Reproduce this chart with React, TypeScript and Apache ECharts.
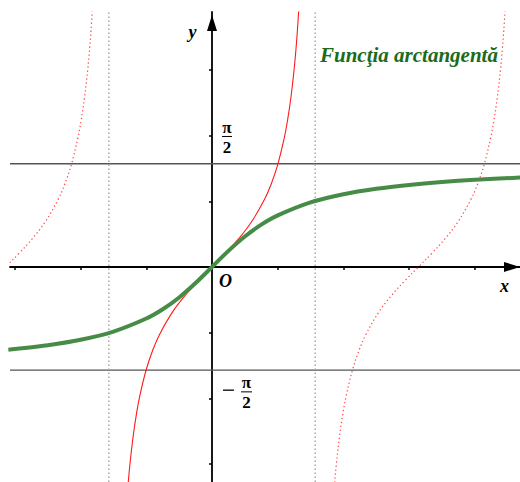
import React, { useEffect, useRef } from "react";
import * as echarts from "echarts";

// Visible window
const X_MIN = -3.075;
const X_MAX = 4.688;
const Y_MIN = -3.273;
const Y_MAX = 3.881;
const HALF_PI = Math.PI / 2;
const PERIOD = Math.PI;

const X_TICKS = [-3, -2, -1, 1, 2, 3, 4];
const Y_TICKS = [-3, -2, -1, 1, 2, 3];

// arctan samples
const ATAN_X = [-3.1, -3, -2.5, -2, -1.5, -1, -0.75, -0.5, -0.25, 0, 0.25, 0.5, 0.75, 1, 1.5, 2, 2.5, 3, 3.5, 4, 4.75];
const ATAN_Y = [-1.259, -1.249, -1.190, -1.107, -0.983, -0.785, -0.644, -0.464, -0.245, 0, 0.245, 0.464, 0.644, 0.785, 0.983, 1.107, 1.190, 1.249, 1.293, 1.326, 1.363];

// tan samples on the principal branch (-pi/2, pi/2)
const TAN_X = [-1.33, -1.3, -1.28, -1.25, -1.2, -1.15, -1.1, -1.0, -0.9, -0.8, -0.6, -0.4, -0.2, 0, 0.2, 0.4, 0.6, 0.8, 0.9, 1.0, 1.1, 1.15, 1.2, 1.25, 1.28, 1.3, 1.33];
const TAN_Y = [-4.073, -3.602, -3.341, -3.010, -2.572, -2.235, -1.965, -1.557, -1.260, -1.030, -0.684, -0.423, -0.203, 0, 0.203, 0.423, 0.684, 1.030, 1.260, 1.557, 1.965, 2.235, 2.572, 3.010, 3.341, 3.602, 4.073];

const TITLE = "Funcţia arctangentă";

const pairs = (xs: number[], ys: number[], shift = 0) => xs.map((x, i) => [x + shift, ys[i]]);

export default function App() {
  const ref = useRef<HTMLDivElement>(null);
  useEffect(() => {
    if (!ref.current) return;
    const chart = echarts.init(ref.current, null, { renderer: "svg" });
    const axisLine = (offset: number) => ({
      show: true,
      onZero: true,
      symbol: ["none", "triangle"],
      symbolSize: [10, 16],
      symbolOffset: [0, offset],
      lineStyle: { color: "#000", width: 1.8 },
    });
    chart.setOption({
      animation: false,
      grid: { left: 10, top: 12, width: 510, height: 470, containLabel: false },
      xAxis: {
        type: "value",
        min: X_MIN,
        max: X_MAX,
        axisLine: axisLine(-8),
        axisTick: { show: true, customValues: X_TICKS, length: 3, lineStyle: { color: "#000", width: 1.5 } },
        axisLabel: { show: false },
        splitLine: { show: false },
      },
      yAxis: {
        type: "value",
        min: Y_MIN,
        max: Y_MAX,
        axisLine: axisLine(-11),
        axisTick: { show: true, customValues: Y_TICKS, length: 3, lineStyle: { color: "#000", width: 1.5 } },
        axisLabel: { show: false },
        splitLine: { show: false },
      },
      series: [
        {
          type: "line", symbol: "none", silent: true, z: 1,
          data: [[X_MIN, HALF_PI], [X_MAX, HALF_PI]],
          lineStyle: { color: "#555", width: 1.3 },
        },
        {
          type: "line", symbol: "none", silent: true, z: 1,
          data: [[X_MIN, -HALF_PI], [X_MAX, -HALF_PI]],
          lineStyle: { color: "#555", width: 1.3 },
        },
        {
          type: "line", symbol: "none", silent: true, z: 1,
          data: [[-HALF_PI, Y_MIN], [-HALF_PI, Y_MAX]],
          lineStyle: { color: "#aaa", width: 1.5, type: [1.5, 2.5] },
        },
        {
          type: "line", symbol: "none", silent: true, z: 1,
          data: [[HALF_PI, Y_MIN], [HALF_PI, Y_MAX]],
          lineStyle: { color: "#aaa", width: 1.5, type: [1.5, 2.5] },
        },
        {
          type: "line", symbol: "none", silent: true, smooth: 0.4, z: 3,
          data: pairs(TAN_X, TAN_Y, -PERIOD),
          lineStyle: { color: "#ff4444", width: 1.2, type: [1.3, 2.7] },
        },
        {
          type: "line", symbol: "none", silent: true, smooth: 0.4, z: 3,
          data: pairs(TAN_X, TAN_Y, PERIOD),
          lineStyle: { color: "#ff4444", width: 1.2, type: [1.3, 2.7] },
        },
        {
          type: "line", symbol: "none", silent: true, smooth: 0.4, z: 3,
          data: pairs(TAN_X, TAN_Y),
          lineStyle: { color: "#ff1a1a", width: 1.1 },
        },
        {
          type: "line", symbol: "none", silent: true, smooth: 0.35, z: 4,
          data: pairs(ATAN_X, ATAN_Y),
          lineStyle: { color: "#468c46", width: 4 },
        },
      ],
    });

    const px = (x: number, y: number) => chart.convertToPixel({ gridIndex: 0 }, [x, y]) as number[];
    const [ox, oy] = px(0, 0);
    const yTop = px(0, HALF_PI)[1];
    const yBot = px(0, -HALF_PI)[1];
    const gTop = px(0, Y_MAX)[1];
    const xRight = px(X_MAX, 0)[0];

    const SERIF = "Liberation Serif";
    const txt = (text: string, x: number, y: number, size: number, italic: boolean, fill = "#000") => ({
      type: "text",
      x, y, z: 10, silent: true,
      style: {
        text, fill,
        fontFamily: SERIF, fontSize: size, fontWeight: "bold", fontStyle: italic ? "italic" : "normal",
        align: "center", verticalAlign: "middle", textAlign: "center", textVerticalAlign: "middle",
      },
    });
    const bar = (x1: number, x2: number, y: number, w = 1) => ({
      type: "line", z: 10, silent: true,
      shape: { x1, y1: y, x2, y2: y },
      style: { stroke: "#000", lineWidth: w },
    });

    chart.setOption({
      graphic: [
        txt("y", ox - 19.5, gTop + 20, 18, true),
        txt("x", xRight - 15.5, oy + 19, 18, true),
        txt("O", ox + 13.5, oy + 14, 18, true),
        txt("π", ox + 15, yTop - 36, 17, false),
        bar(ox + 10, ox + 20, yTop - 27.3),
        txt("2", ox + 15, yTop - 16, 17, false),
        bar(ox + 11, ox + 22, yBot + 20, 1.3),
        txt("π", ox + 34.5, yBot + 12, 17, false),
        bar(ox + 29, ox + 40, yBot + 21.7),
        txt("2", ox + 34.5, yBot + 32, 17, false),
        {
          type: "text", z: 10, silent: true,
          x: 320, y: 65,
          style: {
            text: TITLE,
            fontFamily: SERIF, fontSize: 21, fontWeight: "bold", fontStyle: "italic",
            fill: "#1c6b1c",
            align: "left", verticalAlign: "bottom", textAlign: "left", textVerticalAlign: "bottom",
          },
        },
      ],
    });
    return () => chart.dispose();
  }, []);
  return <div ref={ref} style={{ position: "absolute", left: 0, top: 0, width: 520, height: 482 }} />;
}
